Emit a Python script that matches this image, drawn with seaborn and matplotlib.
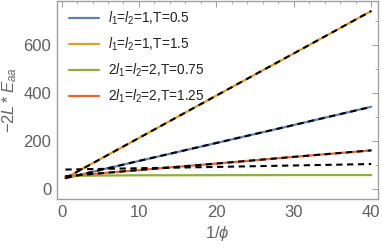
import numpy as np
import pandas as pd
import matplotlib
matplotlib.use("Agg")
import matplotlib.pyplot as plt
import seaborn as sns
from matplotlib.ticker import MultipleLocator

# data
inv_phi = [0.5, 1, 2, 5, 10, 20, 30, 40]
e_blue = [45, 49, 56, 79, 117, 192, 267, 343]
e_orange = [45, 54, 72, 125, 213, 390, 566, 743]
e_green = [50, 53, 55, 56, 57, 57.5, 58, 58]
e_red = [53, 54, 57, 65, 79, 106, 134, 161]

labels = [r"$l_1$=$l_2$=1,T=0.5", r"$l_1$=$l_2$=1,T=1.5",
          r"2$l_1$=$l_2$=2,T=0.75", r"2$l_1$=$l_2$=2,T=1.25"]
colors = ["#5E81B5", "#E19C24", "#8FB032", "#EB6235"]

# fitted (dashed) lines
fit_x = [0.5, 10, 20, 30, 40]
fit_blue = [45, 117, 192, 267, 343]
fit_orange = [45, 213, 390, 566, 743]
fit_red = [53, 79, 106, 134, 161]
fit_extra = [81, 86.5, 92, 98, 104]

df = pd.DataFrame({
    "x": inv_phi * 4,
    "y": e_blue + e_orange + e_green + e_red,
    "series": sum([[l] * len(inv_phi) for l in labels], []),
})

sns.set_style("white")
plt.rcParams["font.family"] = ["Liberation Sans", "DejaVu Sans"]
plt.rcParams["mathtext.fontset"] = "custom"
plt.rcParams["mathtext.rm"] = "Liberation Sans"
plt.rcParams["mathtext.it"] = "Liberation Sans:italic"

fig = plt.figure(figsize=(3.82, 2.5), dpi=100)
ax = fig.add_axes([0.149, 0.204, 0.841, 0.792])

sns.lineplot(data=df, x="x", y="y", hue="series", palette=colors,
             hue_order=labels, linewidth=1.6, ax=ax)

for fy in [fit_blue, fit_orange, fit_red, fit_extra]:
    ax.plot(fit_x, fy, color="black", linestyle=(0, (3, 2.2)), linewidth=1.5)

ax.set_xlim(-0.6, 40.9)
ax.set_ylim(-42, 785)
ax.xaxis.set_major_locator(MultipleLocator(10))
ax.xaxis.set_minor_locator(MultipleLocator(2))
ax.yaxis.set_major_locator(MultipleLocator(200))
ax.yaxis.set_minor_locator(MultipleLocator(100))

gray = "#a0a0a0"
for s in ax.spines.values():
    s.set_color(gray)
    s.set_linewidth(1.0)
ax.tick_params(which="both", direction="in", top=True, right=True,
               color=gray, labelcolor="#606060", labelsize=12)
ax.tick_params(which="major", length=4, width=0.8, pad=4)
ax.tick_params(which="minor", length=2, width=0.6)

ax.set_xlabel(r"$1/\phi$", color="#666666", fontsize=12, labelpad=3)
ax.set_ylabel(r"$-2L*E_{aa}$", color="#666666", fontsize=12, labelpad=3)

leg = ax.legend(loc="upper left", frameon=False, fontsize=9.8,
                handlelength=2.2, handletextpad=0.7, labelspacing=0.62,
                borderaxespad=0.25, bbox_to_anchor=(0.01, 1.0))
for t in leg.get_texts():
    t.set_color("#222222")

fig.savefig("out.png", dpi=100)
